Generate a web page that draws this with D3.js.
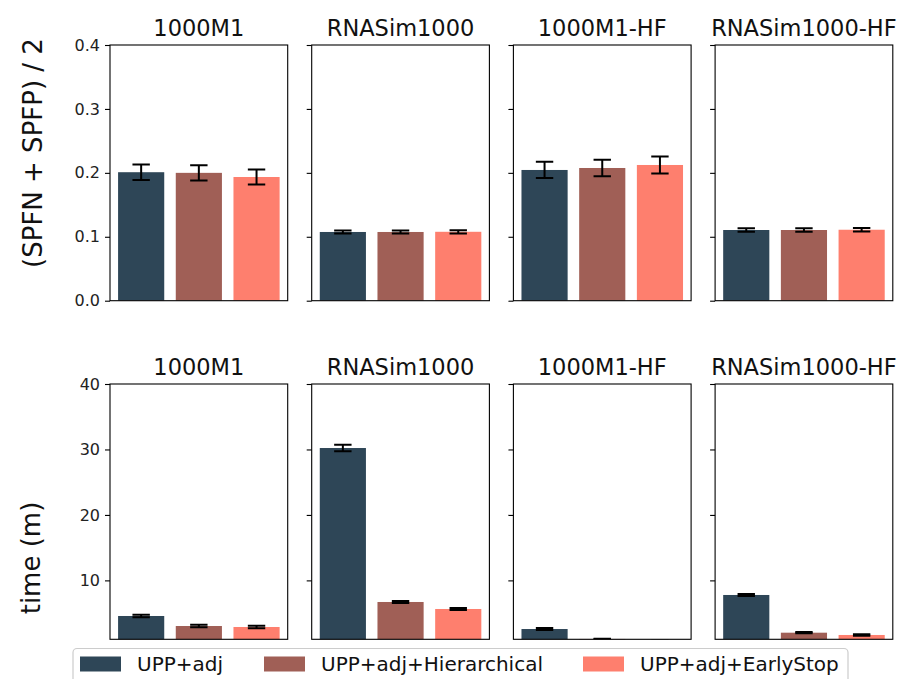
<!DOCTYPE html>
<html>
<head>
<meta charset="utf-8">
<script src="https://cdn.jsdelivr.net/npm/d3@7"></script>
<style>
  html, body { margin: 0; padding: 0; background: #fff; }
  svg { display: block; font-family: "DejaVu Sans", sans-serif; }
</style>
</head>
<body>
<svg id="chart" width="904" height="679"></svg>
<script>
// Datasets (columns) and methods (bars within each panel)
const datasets = ["1000M1", "RNASim1000", "1000M1-HF", "RNASim1000-HF"];
const methods = ["UPP+adj", "UPP+adj+Hierarchical", "UPP+adj+EarlyStop"];
const colors = ["#2e4657", "#a05f56", "#fe7f6e"];

// Alignment error (SPFN + SPFP)/2: mean and std per dataset, per method
const errorMean = [
  [0.201, 0.200, 0.1935],
  [0.1075, 0.1075, 0.1078],
  [0.2045, 0.2076, 0.2123],
  [0.1106, 0.1106, 0.1110]
];
const errorSd = [
  [0.012, 0.012, 0.0118],
  [0.0025, 0.0025, 0.0025],
  [0.0127, 0.013, 0.0134],
  [0.0028, 0.0028, 0.0028]
];

// Running time in minutes: mean and std
const timeMean = [
  [4.56, 3.03, 2.88],
  [30.22, 6.70, 5.63],
  [2.57, 1.05, 0.80],
  [7.77, 2.01, 1.66]
];
const timeSd = [
  [0.2, 0.2, 0.2],
  [0.5, 0.15, 0.15],
  [0.15, 0.05, 0.05],
  [0.15, 0.1, 0.1]
];

const errorTicks = [0.0, 0.1, 0.2, 0.3, 0.4];
const timeTicks = [10, 20, 30, 40];

const svg = d3.select("#chart");

// Panel geometry
const panelW = 177.7, panelGap = 24;
const firstLeft = 110;
const rows = [
  { top: 45, bottom: 300.7, domain: [0, 0.4], ticks: errorTicks, fmt: d3.format(".1f"),
    mean: errorMean, sd: errorSd, ylabel: "(SPFN + SPFP) / 2", labelX: 33, labelY: 153 },
  { top: 384, bottom: 639.3, domain: [1, 40], ticks: timeTicks, fmt: d3.format("d"),
    mean: timeMean, sd: timeSd, ylabel: "time (m)", labelX: 31, labelY: 558 }
];

const x = d3.scaleLinear().domain([-0.54, 2.54]);
const barW = 0.8;

rows.forEach((row, r) => {
  const y = d3.scaleLinear().domain(row.domain).range([row.bottom, row.top]);

  datasets.forEach((ds, c) => {
    const left = firstLeft + c * (panelW + panelGap);
    x.range([left, left + panelW]);
    const g = svg.append("g");

    const clipId = `clip-${r}-${c}`;
    svg.append("clipPath").attr("id", clipId)
      .append("rect")
      .attr("x", left).attr("y", row.top)
      .attr("width", panelW).attr("height", row.bottom - row.top);

    const plot = g.append("g").attr("clip-path", `url(#${clipId})`);

    const vals = methods.map((m, k) => ({ k, mean: row.mean[c][k], sd: row.sd[c][k] }));

    plot.selectAll("rect.bar").data(vals).join("rect")
      .attr("class", "bar")
      .attr("x", d => x(d.k - barW / 2))
      .attr("width", d => x(d.k + barW / 2) - x(d.k - barW / 2))
      .attr("y", d => y(d.mean))
      .attr("height", d => y(Math.min(0, row.domain[0])) - y(d.mean))
      .attr("fill", d => colors[d.k]);

    // Error bars
    const cap = 8.7;
    const eb = plot.selectAll("g.err").data(vals).join("g").attr("class", "err")
      .attr("stroke", "#000").attr("stroke-width", 2);
    eb.append("line")
      .attr("x1", d => x(d.k)).attr("x2", d => x(d.k))
      .attr("y1", d => y(d.mean - d.sd)).attr("y2", d => y(d.mean + d.sd));
    eb.append("line")
      .attr("x1", d => x(d.k) - cap).attr("x2", d => x(d.k) + cap)
      .attr("y1", d => y(d.mean + d.sd)).attr("y2", d => y(d.mean + d.sd));
    eb.append("line")
      .attr("x1", d => x(d.k) - cap).attr("x2", d => x(d.k) + cap)
      .attr("y1", d => y(d.mean - d.sd)).attr("y2", d => y(d.mean - d.sd));

    // Y axis (labels only on the first column)
    const axis = d3.axisLeft(y).tickValues(row.ticks).tickSize(5).tickPadding(5)
      .tickFormat(c === 0 ? row.fmt : () => "");
    const ag = g.append("g").attr("transform", `translate(${left},0)`).call(axis);
    ag.select(".domain").remove();
    ag.selectAll(".tick line").attr("stroke", "#000").attr("stroke-width", 1.1);
    ag.selectAll(".tick text").attr("font-size", 16).attr("fill", "#222")
      .attr("font-family", "DejaVu Sans, sans-serif");

    // Frame
    g.append("rect")
      .attr("x", left).attr("y", row.top)
      .attr("width", panelW).attr("height", row.bottom - row.top)
      .attr("fill", "none").attr("stroke", "#000").attr("stroke-width", 1.1);

    // Title
    g.append("text")
      .attr("x", left + panelW / 2).attr("y", row.top - 9)
      .attr("text-anchor", "middle").attr("font-size", 22.5).attr("fill", "#111")
      .text(ds);
  });

  // Row label
  svg.append("text")
    .attr("transform", `translate(${row.labelX},${row.labelY}) rotate(-90)`)
    .attr("text-anchor", "middle").attr("dominant-baseline", "central")
    .attr("font-size", 26).attr("fill", "#111")
    .text(row.ylabel);
});

// Legend
const legend = svg.append("g");
legend.append("rect")
  .attr("x", 73).attr("y", 648.5).attr("width", 775).attr("height", 50)
  .attr("rx", 4).attr("fill", "#fff").attr("stroke", "#ccc").attr("stroke-width", 1.2);
const legendX = [80, 264, 583];
methods.forEach((m, k) => {
  legend.append("rect")
    .attr("x", legendX[k]).attr("y", 656.5).attr("width", 41).attr("height", 15)
    .attr("fill", colors[k]);
  legend.append("text")
    .attr("x", legendX[k] + 57).attr("y", 671)
    .attr("font-size", 20).attr("fill", "#111")
    .text(m);
});
</script>
</body>
</html>
